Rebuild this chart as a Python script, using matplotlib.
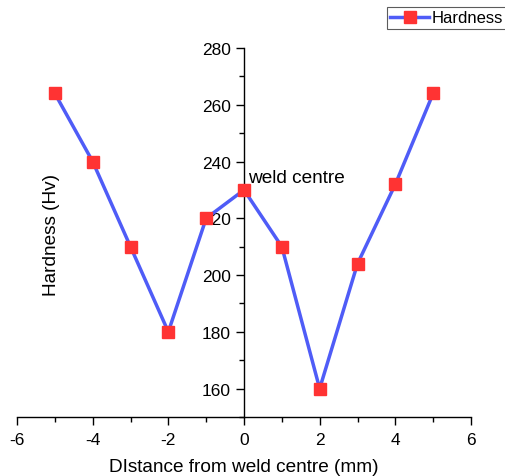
import matplotlib
matplotlib.use("Agg")
import matplotlib.pyplot as plt
from matplotlib.ticker import MultipleLocator

plt.rcParams['font.family'] = ['Liberation Sans', 'DejaVu Sans']
plt.rcParams['axes.unicode_minus'] = False

distance = [-5, -4, -3, -2, -1, 0, 1, 2, 3, 4, 5]
hardness = [264, 240, 210, 180, 220, 230, 210, 160, 204, 232, 264]
x_ticks = [-6, -4, -2, 0, 2, 4, 6]
y_ticks = [160, 180, 200, 220, 240, 260, 280]

fig = plt.figure(figsize=(5.05, 4.77), dpi=100)
ax = fig.add_axes([17/505, 1-418/477, 454/505, 369/477])

ax.plot(distance, hardness, color='#4f5cf7', lw=2.5, marker='s', ms=8,
        mfc='#ff3333', mec='#ff3333', label='Hardness', zorder=5, clip_on=False)

ax.set_xlim(-6, 6)
ax.set_ylim(150, 280)
ax.spines['left'].set_position(('data', 0))
ax.spines['left'].set_bounds(150, 280)
ax.spines['right'].set_visible(False)
ax.spines['top'].set_visible(False)
for s in ('left', 'bottom'):
    ax.spines[s].set_linewidth(1.0)

ax.set_xticks(x_ticks)
ax.set_yticks(y_ticks)
ax.xaxis.set_minor_locator(MultipleLocator(1))
ax.yaxis.set_minor_locator(MultipleLocator(10))
ax.tick_params(axis='both', which='major', direction='out', length=6, width=1,
               labelsize=12.5)
ax.tick_params(axis='x', which='major', pad=5)
ax.tick_params(axis='both', which='minor', direction='out', length=3.5, width=1)

ax.set_xlabel('DIstance from weld centre (mm)', fontsize=13.7, labelpad=8)
ax.set_ylabel('Hardness (Hv)', fontsize=13.7)
ax.yaxis.set_label_coords((60 - 17) / 454, (418 - 235) / 369)

ax.text(0.1, 234.3, 'weld centre', fontsize=13.7, ha='left', va='center')

leg = fig.legend(loc='upper left', bbox_to_anchor=(387/505, 1-8/477),
                 frameon=True, fancybox=False, edgecolor='#333333',
                 fontsize=12, handlelength=2.3, handletextpad=0.2,
                 borderpad=0.2, borderaxespad=0)
leg.get_frame().set_linewidth(0.8)

fig.savefig('out.png', dpi=100)
